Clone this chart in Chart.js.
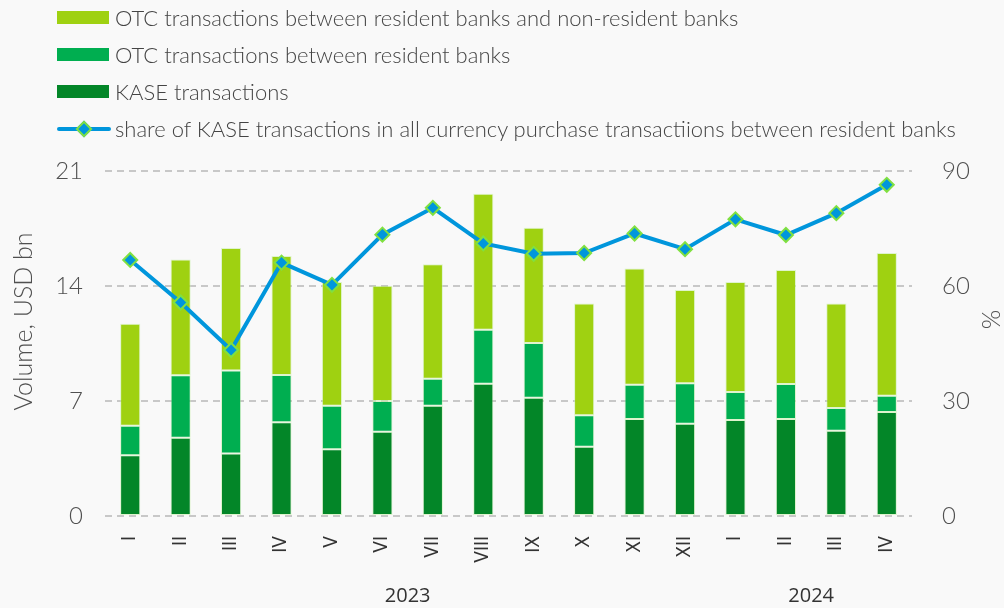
<!DOCTYPE html>
<html>
<head>
<meta charset="utf-8">
<script src="https://cdn.jsdelivr.net/npm/chart.js@4.4.1/dist/chart.umd.min.js"></script>
<style>
  html, body { margin: 0; padding: 0; background: #f9f9f9; }
  #wrap { position: relative; width: 1004px; height: 608px; }
  #legend { position: absolute; left: 57px; top: -1px; font-family: Lato, sans-serif; font-weight: 300; font-size: 22px; color: #444; }
  .row { position: absolute; left: 0; height: 37px; white-space: nowrap; display: flex; align-items: center; }
  .box { width: 52px; height: 13px; margin-right: 6px; }
  .lineSample { position: relative; width: 54px; height: 14px; margin-right: 4px; }
  .lineSample .bar { position: absolute; left: 0; right: 0; top: 5px; height: 4px; background: #0096dc; border-radius: 2px; }
  .lineSample .dia { position: absolute; left: 21px; top: 1px; width: 8px; height: 8px; background: #0096dc; border: 2px solid #80e040; transform: rotate(45deg); }
</style>
</head>
<body>
<div id="wrap">
  <canvas id="chart" width="1004" height="608"></canvas>
  <div id="legend"></div>
</div>
<script>
document.addEventListener("DOMContentLoaded", function () {
    const months = ["I", "II", "III", "IV", "V", "VI", "VII", "VIII", "IX", "X", "XI", "XII", "I", "II", "III", "IV"];
    const yearLabels = ["2023", "2024"];
    const yearSpans = [12, 4];

    // USD bn
    const kaseVolume = [3.70, 4.77, 3.81, 5.70, 4.06, 5.13, 6.71, 8.05, 7.20, 4.22, 5.90, 5.62, 5.84, 5.90, 5.19, 6.33];
    const otcResident = [1.79, 3.79, 5.04, 2.88, 2.65, 1.87, 1.65, 3.29, 3.33, 1.91, 2.09, 2.46, 1.71, 2.13, 1.38, 0.99];
    const otcNonResident = [6.21, 7.06, 7.46, 7.24, 7.53, 7.02, 6.96, 8.28, 7.02, 6.81, 7.08, 5.68, 6.69, 6.94, 6.37, 8.69];
    // %
    const kaseShare = [66.8, 55.7, 43.3, 66.1, 60.3, 73.4, 80.4, 71.1, 68.4, 68.6, 73.7, 69.6, 77.4, 73.3, 79.0, 86.4];

    const leftTicks = { min: 0, max: 21, step: 7 };
    const rightTicks = { min: 0, max: 90, step: 30 };

    const seriesNames = [
        "OTC transactions between resident banks and non-resident banks",
        "OTC transactions between resident banks",
        "KASE transactions",
        "share of KASE transactions in all currency purchase transactiions between resident banks"
    ];
    const colors = {
        nonRes: "#9fd111",
        res: "#00ae50",
        kase: "#038628",
        line: "#0096dc",
        marker: "#80e040"
    };

    const gridColor = "#c8c8c8";
    const textColor = "#505050";

    // html legend, one entry per line
    const legendEl = document.getElementById("legend");
    const legendColors = [colors.nonRes, colors.res, colors.kase, null];
    seriesNames.forEach(function (name, i) {
        const row = document.createElement("div");
        row.className = "row";
        row.style.top = (i * 37) + "px";
        if (legendColors[i]) {
            row.innerHTML = `<div class="box" style="background:${legendColors[i]}"></div><span>${name}</span>`;
        } else {
            row.innerHTML = `<div class="lineSample"><div class="bar"></div><div class="dia"></div></div><span>${name}</span>`;
        }
        legendEl.appendChild(row);
    });

    // axis titles and year captions
    const extraText = {
        id: "extraText",
        afterDraw(chart) {
            const { ctx, chartArea, scales } = chart;
            const midY = (chartArea.top + chartArea.bottom) / 2 - 22;
            ctx.save();
            ctx.fillStyle = textColor;
            ctx.textAlign = "center";
            ctx.textBaseline = "middle";

            ctx.font = "300 25px Lato";
            ctx.save();
            ctx.translate(24, midY);
            ctx.rotate(-Math.PI / 2);
            ctx.fillText("Volume, USD bn", 0, 0);
            ctx.restore();

            ctx.save();
            ctx.translate(992, midY - 2);
            ctx.rotate(-Math.PI / 2);
            ctx.fillText("%", 0, 0);
            ctx.restore();

            ctx.font = "20px 'Open Sans'";
            ctx.fillStyle = "#333";
            let start = 0;
            yearLabels.forEach(function (label, i) {
                const end = start + yearSpans[i] - 1;
                const x = (scales.x.getPixelForValue(start) + scales.x.getPixelForValue(end)) / 2;
                ctx.fillText(label, x, 596);
                start = end + 1;
            });
            ctx.restore();
        }
    };

    const barCommon = {
        type: "bar",
        yAxisID: "y",
        order: 1,
        borderWidth: 1,
        borderSkipped: false,
        borderColor: "rgba(200, 240, 170, 0.55)",
        barPercentage: 0.4,
        categoryPercentage: 1
    };

    const ctx = document.getElementById("chart").getContext("2d");
    new Chart(ctx, {
        data: {
            labels: months,
            datasets: [
                {
                    type: "line",
                    label: seriesNames[3],
                    data: kaseShare,
                    yAxisID: "y1",
                    order: 0,
                    borderColor: colors.line,
                    borderWidth: 4,
                    pointStyle: "rectRot",
                    pointRadius: 7,
                    pointBackgroundColor: colors.line,
                    pointBorderColor: colors.marker,
                    pointBorderWidth: 2,
                    tension: 0
                },
                Object.assign({ label: seriesNames[2], data: kaseVolume, backgroundColor: colors.kase }, barCommon),
                Object.assign({ label: seriesNames[1], data: otcResident, backgroundColor: colors.res }, barCommon),
                Object.assign({ label: seriesNames[0], data: otcNonResident, backgroundColor: colors.nonRes }, barCommon)
            ]
        },
        options: {
            responsive: false,
            animation: false,
            layout: { padding: { top: 171, left: 0, right: 0, bottom: 0 } },
            plugins: {
                legend: { display: false },
                tooltip: { enabled: false }
            },
            scales: {
                x: {
                    stacked: true,
                    grid: { display: false },
                    border: { display: false },
                    ticks: {
                        autoSkip: false,
                        minRotation: 90,
                        maxRotation: 90,
                        padding: 12,
                        color: "#333",
                        font: { family: "'DejaVu Sans Condensed', 'DejaVu Sans'", size: 19 }
                    },
                    afterFit(scale) { scale.height = 92; }
                },
                y: {
                    stacked: true,
                    position: "left",
                    min: leftTicks.min,
                    max: leftTicks.max,
                    grid: { color: gridColor, lineWidth: 2, drawTicks: false },
                    border: { display: false, dash: [7, 5] },
                    ticks: {
                        stepSize: leftTicks.step,
                        padding: 22,
                        color: textColor,
                        font: { family: "Lato", weight: 300, size: 24 }
                    },
                    afterFit(scale) { scale.width = 105; }
                },
                y1: {
                    position: "right",
                    min: rightTicks.min,
                    max: rightTicks.max,
                    grid: { display: false, drawTicks: false },
                    border: { display: false },
                    ticks: {
                        stepSize: rightTicks.step,
                        padding: 30,
                        color: textColor,
                        font: { family: "Lato", weight: 300, size: 24 }
                    },
                    afterFit(scale) { scale.width = 92; }
                }
            }
        },
        plugins: [extraText]
    });
});
</script>
</body>
</html>
